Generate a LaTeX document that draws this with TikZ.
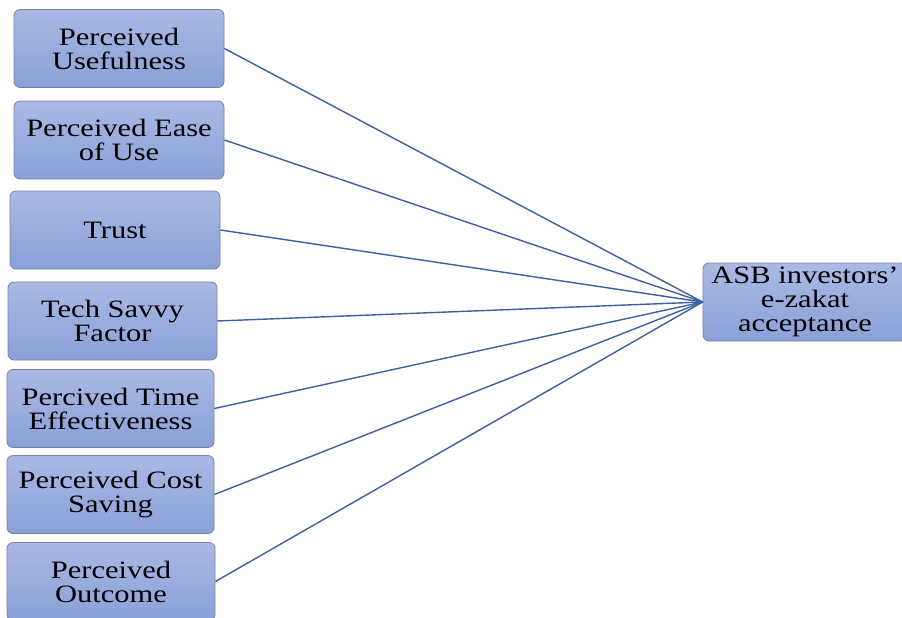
\documentclass[tikz,border=0pt]{standalone}
\usepackage{fontspec}
\setmainfont[FakeStretch=1.22]{Liberation Serif}
\definecolor{boxtop}{RGB}{170,185,228}
\definecolor{boxbot}{RGB}{138,160,216}
\definecolor{boxline}{RGB}{120,130,160}
\definecolor{linkblue}{RGB}{62,94,166}
\begin{document}
\begin{tikzpicture}[x=1pt,y=-1pt,
  factor/.style={draw=boxline, line width=0.8pt, rounded corners=6pt,
    top color=boxtop, bottom color=boxbot, minimum height=78pt,
    inner sep=0pt, align=center, font=\fontsize{25}{24}\selectfont},
  link/.style={draw=linkblue, line width=1.4pt}]

\useasboundingbox (0,0) rectangle (902,618);

\node[factor, minimum width=210pt] (pu) at(119,48.5){Perceived\\Usefulness};

\node[factor, minimum width=210pt] (peou) at(119,140){Perceived Ease\\of Use};

\node[factor, minimum width=210pt] (tr) at(115,230){Trust};

\node[factor, minimum width=209pt] (ts) at(112.5,321){Tech Savvy\\Factor};

\node[factor, minimum width=207pt] (pte) at(110.5,408.5){Percived Time\\Effectiveness};

\node[factor, minimum width=207pt] (pcs) at(110.5,494.5){Perceived Cost\\Saving};

\node[factor, minimum width=208pt] (po) at(111,581.5){Perceived\\Outcome};

\node[factor, minimum width=204pt] (acc) at(805,302){ASB investors’\\e-zakat\\acceptance};

\draw[link] (pu.east)--(acc.west);
\draw[link] (peou.east)--(acc.west);
\draw[link] (tr.east)--(acc.west);
\draw[link] (ts.east)--(acc.west);
\draw[link] (pte.east)--(acc.west);
\draw[link] (pcs.east)--(acc.west);
\draw[link] (po.east)--(acc.west);

\end{tikzpicture}
\end{document}
